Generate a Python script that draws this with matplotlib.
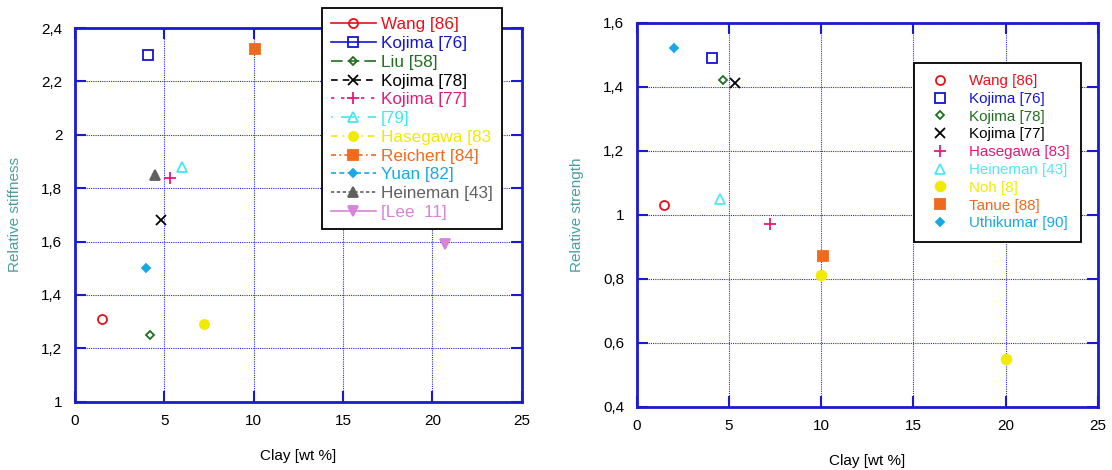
import matplotlib
matplotlib.use("Agg")
import matplotlib.pyplot as plt
from matplotlib.ticker import FuncFormatter

plt.rcParams['font.family'] = ['Liberation Sans', 'DejaVu Sans']

# stiffness data (left panel)
stiff_labels = ['Wang [86]', 'Kojima [76]', 'Liu [58]', 'Kojima [78]', 'Kojima [77]', '[79]',
                'Hasegawa [83', 'Reichert [84]', 'Yuan [82]', 'Heineman [43]', '[Lee  11]']
stiff_x = [[1.5], [4.1], [4.2], [4.8], [5.3], [6.0], [7.2], [10.1], [4.0], [4.5], [20.7]]
stiff_y = [[1.31], [2.30], [1.25], [1.68], [1.84], [1.88], [1.29], [2.32], [1.50], [1.85], [1.59]]

# strength data (right panel)
str_labels = ['Wang [86]', 'Kojima [76]', 'Kojima [78]', 'Kojima [77]', 'Hasegawa [83]',
              'Heineman [43]', 'Noh [8]', 'Tanue [88]', 'Uthikumar [90]']
str_x = [[1.5], [4.1], [4.7], [5.3], [7.2], [4.5], [10.0, 20.0], [10.1], [2.0]]
str_y = [[1.03], [1.49], [1.42], [1.41], [0.97], [1.05], [0.81, 0.55], [0.87], [1.52]]

# styles
stiff_style = [
    dict(color='#e8101a', marker='o', mfc='none', ls='-'),
    dict(color='#1414d8', marker='s', mfc='none', ls='-'),
    dict(color='#1f6e1f', marker='D', mfc='none', ls=(0, (7, 3)), ms=4.5),
    dict(color='#000000', marker='x', ls=(0, (4, 3))),
    dict(color='#e8177a', marker='+', ls=(0, (2, 4)), ms=8),
    dict(color='#40e8f0', marker='^', mfc='none', ls=(0, (1, 5, 8, 2))),
    dict(color='#f2ea00', marker='o', ls=(0, (4, 3, 1, 3))),
    dict(color='#f06a1e', marker='s', ls=(0, (3, 2, 1, 2))),
    dict(color='#18a8e8', marker='D', ls=(0, (3, 2)), ms=4.5),
    dict(color='#606060', marker='^', ls=(0, (2, 1.5))),
    dict(color='#d884d8', marker='v', ls='-'),
]
str_style = [
    dict(color='#e8101a', marker='o', mfc='none'),
    dict(color='#1414d8', marker='s', mfc='none'),
    dict(color='#1f6e1f', marker='D', mfc='none', ms=4.5),
    dict(color='#000000', marker='x', ms=7.5),
    dict(color='#e8177a', marker='+', ms=8.5),
    dict(color='#50e8f8', marker='^', mfc='none'),
    dict(color='#f2ea00', marker='o', ms=7),
    dict(color='#f06a1e', marker='s', ms=7.5),
    dict(color='#18a8e8', marker='D', ms=4.5),
]

blue = '#1a1ad0'
comma = FuncFormatter(lambda v, p: ('%g' % v).replace('.', ','))

fig = plt.figure(figsize=(11.12, 4.7), dpi=100)
ax1 = fig.add_axes([0.0674, 0.1453, 0.4017, 0.795])
ax2 = fig.add_axes([0.5726, 0.1347, 0.4148, 0.817])


def style_axes(ax, ylabel):
    for s in ax.spines.values():
        s.set_color(blue)
        s.set_linewidth(2)
    ax.grid(True, color='#2a2ae0', ls=(0, (1, 1)), lw=0.8)
    ax.tick_params(direction='in', length=8, width=1.5, color=blue, top=True, right=True,
                   labelsize=11, pad=9)
    ax.set_xlim(0, 25)
    ax.set_xticks([0, 5, 10, 15, 20, 25])
    ax.yaxis.set_major_formatter(comma)
    ax.set_xlabel('Clay [wt %]', fontsize=11, labelpad=15)
    ax.set_ylabel(ylabel, fontsize=11, color='#4a9e9e', labelpad=14)


for lab, x, y, st in zip(stiff_labels, stiff_x, stiff_y, stiff_style):
    st = dict(st)
    ax1.plot(x, y, label=lab, ms=st.pop('ms', 6.5), mew=1.3, lw=1.2, **st)
ax1.set_ylim(1, 2.4)
ax1.set_yticks([1, 1.2, 1.4, 1.6, 1.8, 2, 2.2, 2.4])
style_axes(ax1, 'Relative stiffness')
leg1 = ax1.legend(loc='upper right', bbox_to_anchor=(0.4514, 0.983), bbox_transform=fig.transFigure,
                  borderaxespad=0, fontsize=12.3, handlelength=2.6, handletextpad=0.3,
                  labelspacing=0.22, borderpad=0.55, fancybox=False, framealpha=1,
                  edgecolor='black')
leg1.get_frame().set_linewidth(1.3)
for t, st in zip(leg1.get_texts(), stiff_style):
    t.set_color(st['color'])

for lab, x, y, st in zip(str_labels, str_x, str_y, str_style):
    st = dict(st)
    ax2.plot(x, y, label=lab, ls='none', ms=st.pop('ms', 6.5), mew=1.3, **st)
ax2.set_ylim(0.4, 1.6)
ax2.set_yticks([0.4, 0.6, 0.8, 1, 1.2, 1.4, 1.6])
style_axes(ax2, 'Relative strength')
leg2 = ax2.legend(loc='upper right', bbox_to_anchor=(0.972, 0.8666), bbox_transform=fig.transFigure,
                  borderaxespad=0, fontsize=10.9, handlelength=2.0, handletextpad=0.9,
                  labelspacing=0.25, borderpad=0.75, fancybox=False, framealpha=1,
                  edgecolor='black')
leg2.get_frame().set_linewidth(1.3)
for t, st in zip(leg2.get_texts(), str_style):
    t.set_color(st['color'])

fig.savefig('out.png', dpi=100)
